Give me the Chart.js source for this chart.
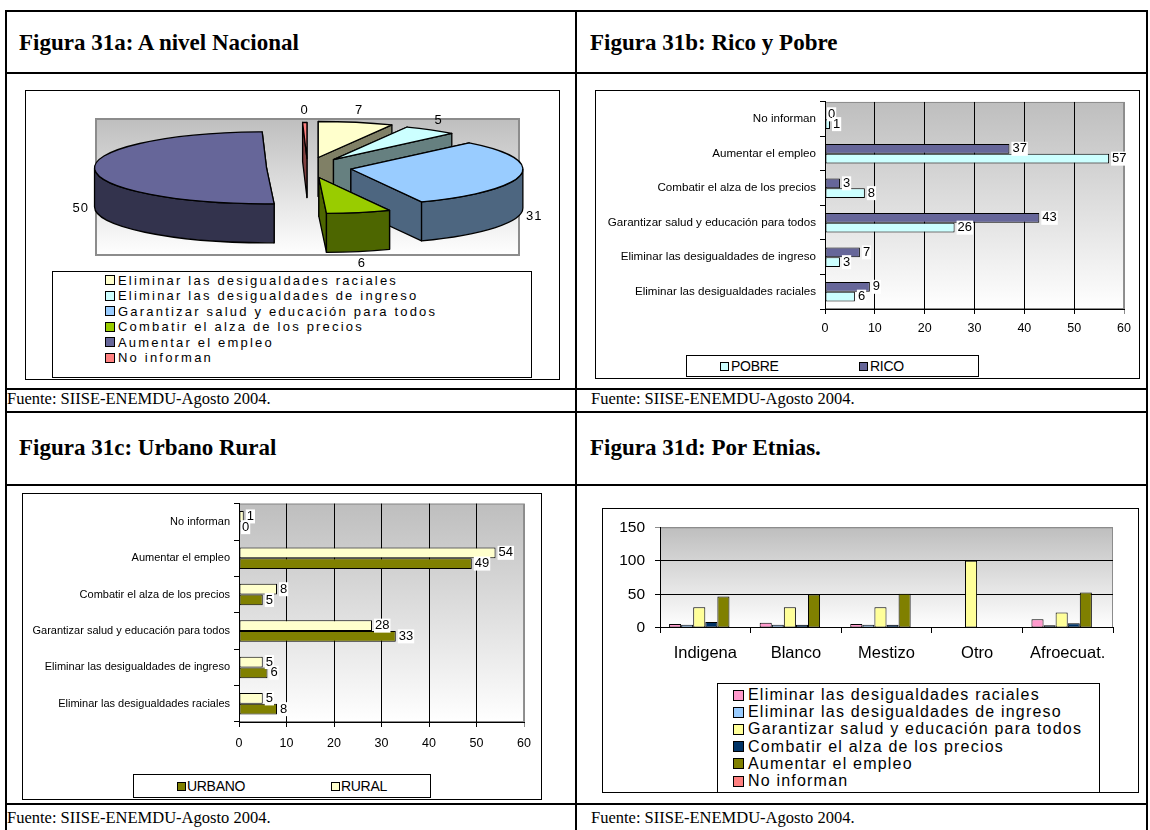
<!DOCTYPE html>
<html><head><meta charset="utf-8">
<script src="https://cdn.jsdelivr.net/npm/chart.js@4.4.1/dist/chart.umd.min.js"></script>
<style>
body{margin:0;background:#fff;width:1150px;height:830px;overflow:hidden;position:relative;font-family:"Liberation Serif","Times New Roman",serif;}
.ln{position:absolute;background:#000;}
.hd{position:absolute;font-weight:bold;font-size:23px;line-height:23px;white-space:nowrap;}
.ft{position:absolute;font-size:16.5px;line-height:16.5px;white-space:nowrap;}
.box{position:absolute;border:1px solid #000;box-sizing:border-box;background:#fff;}
canvas{position:absolute;}
.lg{position:absolute;border:1px solid #000;box-sizing:border-box;background:#fff;font-family:"Liberation Sans",Arial,sans-serif;}
.it{position:absolute;white-space:nowrap;}
.sq{position:absolute;border:1px solid #000;box-sizing:border-box;}
</style></head><body>
<div class="hd" style="left:19px;top:31px">Figura 31a: A nivel Nacional</div>
<div class="hd" style="left:590px;top:31px">Figura 31b: Rico y Pobre</div>
<div class="hd" style="left:19px;top:436px">Figura 31c: Urbano Rural</div>
<div class="hd" style="left:590px;top:436px">Figura 31d: Por Etnias.</div>
<div class="ft" style="left:7px;top:391px">Fuente: SIISE-ENEMDU-Agosto 2004.</div>
<div class="ft" style="left:591px;top:391px">Fuente: SIISE-ENEMDU-Agosto 2004.</div>
<div class="ft" style="left:7px;top:810px">Fuente: SIISE-ENEMDU-Agosto 2004.</div>
<div class="ft" style="left:591px;top:810px">Fuente: SIISE-ENEMDU-Agosto 2004.</div>

<div class="ln" style="left:5px;top:10px;width:1143px;height:2px"></div>
<div class="ln" style="left:5px;top:72px;width:1143px;height:2px"></div>
<div class="ln" style="left:5px;top:388px;width:1143px;height:2px"></div>
<div class="ln" style="left:5px;top:411px;width:1143px;height:2px"></div>
<div class="ln" style="left:5px;top:484px;width:1143px;height:2px"></div>
<div class="ln" style="left:5px;top:803px;width:1143px;height:2px"></div>
<div class="ln" style="left:5px;top:10px;width:2px;height:820px"></div>
<div class="ln" style="left:575px;top:10px;width:2px;height:820px"></div>
<div class="ln" style="left:1146px;top:10px;width:2px;height:820px"></div>

<div class="box" style="left:25px;top:90px;width:535px;height:290px"></div>
<div class="box" style="left:595px;top:90px;width:545px;height:289px"></div>
<div class="box" style="left:22px;top:493px;width:520px;height:307px"></div>
<div class="box" style="left:602px;top:508px;width:537px;height:285px"></div>

<canvas id="cA" width="531" height="289" style="left:25px;top:91px"></canvas>
<canvas id="cB" width="543" height="288" style="left:595px;top:91px"></canvas>
<canvas id="cC" width="518" height="307" style="left:22px;top:493px"></canvas>
<canvas id="cD" width="537" height="284" style="left:602px;top:508px"></canvas>

<div id="lgA" class="lg" style="left:52px;top:271px;width:480px;height:107px"></div>
<div id="lgB" class="lg" style="left:686px;top:355px;width:293px;height:22px"></div>
<div id="lgC" class="lg" style="left:133px;top:774px;width:298px;height:24px"></div>
<div id="lgD" class="lg" style="left:717px;top:683px;width:383px;height:110px"></div>

<script>
// ---------- DATA ----------
const pieLabels = ['Eliminar las desigualdades raciales','Eliminar las desigualdades de ingreso','Garantizar salud y educación para todos','Combatir el alza de los precios','Aumentar el empleo','No informan'];
const pieValues = [7, 5, 31, 6, 50, 0.4];

const catsBC = ['No informan','Aumentar el empleo','Combatir el alza de los precios','Garantizar salud y educación para todos','Eliminar las desigualdades de ingreso','Eliminar las desigualdades raciales'];
const ricoB  = [0, 37, 3, 43, 7, 9];
const pobreB = [1, 57, 8, 26, 3, 6];
const ruralC  = [1, 54, 8, 28, 5, 5];
const urbanoC = [0, 49, 5, 33, 6, 8];
const xTicksBC = [0, 10, 20, 30, 40, 50, 60];

const etnias = ['Indigena','Blanco','Mestizo','Otro','Afroecuat.'];
const dRaciales   = [6, 8, 6, 0, 13];
const dIngreso    = [5, 5, 5, 0, 4];
const dGarantizar = [31, 31, 31, 100, 23];
const dCombatir   = [9, 5, 5, 0, 7];
const dEmpleo     = [47, 50, 51, 0, 53];
const dNoInforman = [1, 0.5, 0, 0, 0];
const yTicksD = [0, 50, 100, 150];

// ---------- STYLE ----------
const pieTop  = ['#FFFFCC','#CCFFFF','#99CCFF','#99CC00','#666699','#FF8080'];
const pieSide = ['#808066','#668080','#4D6680','#4D6600','#33334D','#804040'];
const pieExplode = [49, 46, 44, 49, 41, 43];
const colD = ['#FF99CC','#99CCFF','#FFFF99','#003366','#808000','#FF8080'];
const SANS = '"Liberation Sans", Arial, sans-serif';
function sf(size){ return {family:SANS, size:size}; }

Chart.defaults.color = '#000';

// ---------- PLUGINS ----------
const plotBg = {
  id:'plotBg',
  beforeDraw(chart, args, o){
    const a = chart.chartArea, ctx = chart.ctx;
    const g = ctx.createLinearGradient(0, a.top, 0, a.bottom);
    g.addColorStop(0, '#BEBEBE'); g.addColorStop(1, '#FFFFFF');
    ctx.save();
    ctx.fillStyle = g;
    ctx.fillRect(a.left, a.top, a.right-a.left, a.bottom-a.top);
    ctx.strokeStyle = '#8C8C8C'; ctx.lineWidth = o.border || 1;
    const hw = (o.border||1)/2;
    ctx.strokeRect(a.left+hw, a.top+hw, a.right-a.left-2*hw, a.bottom-a.top-2*hw);
    ctx.restore();
  }
};

const pie3d = {
  id:'pie3d',
  beforeDatasetDraw(chart, args, o){
    const ctx = chart.ctx, meta = args.meta;
    const rx = o.rx, ry = o.ry, h = o.depth, k = ry/rx;
    const ds = chart.data.datasets[0];
    const items = meta.data.map((arc, i) => {
      const p = arc.getProps(['x','y','startAngle','endAngle'], true);
      const am = (p.startAngle + p.endAngle)/2;
      const d = arc.options.offset || 0;
      return {i, a0:p.startAngle, a1:p.endAngle, am,
        ox: p.x + d*Math.cos(am), oy: p.y - h/2 + d*k*Math.sin(am),
        top: arc.options.backgroundColor, side: o.side[i]};
    });
    const order = items.slice().sort((a,b)=>Math.sin(a.am)-Math.sin(b.am));
    ctx.save();
    ctx.lineWidth = 1.3; ctx.strokeStyle = '#000'; ctx.lineJoin = 'round';
    for (const s of order){
      const face = (a)=>{
        const ex = s.ox + rx*Math.cos(a), ey = s.oy + ry*Math.sin(a);
        ctx.beginPath(); ctx.moveTo(s.ox, s.oy); ctx.lineTo(ex, ey); ctx.lineTo(ex, ey+h); ctx.lineTo(s.ox, s.oy+h); ctx.closePath();
        ctx.fillStyle = s.side; ctx.fill(); ctx.stroke();
      };
      const v0 = Math.cos(s.a0) < 0, v1 = Math.cos(s.a1) > 0;
      if (!v0) face(s.a0);
      if (!v1) face(s.a1);
      if (v0) face(s.a0);
      if (v1) face(s.a1);
      const w0 = Math.max(s.a0, 0), w1 = Math.min(s.a1, Math.PI);
      if (w1 > w0){
        ctx.beginPath();
        ctx.ellipse(s.ox, s.oy, rx, ry, 0, w0, w1, false);
        ctx.ellipse(s.ox, s.oy+h, rx, ry, 0, w1, w0, true);
        ctx.closePath(); ctx.fillStyle = s.side; ctx.fill(); ctx.stroke();
      }
      ctx.beginPath(); ctx.moveTo(s.ox, s.oy);
      ctx.ellipse(s.ox, s.oy, rx, ry, 0, s.a0, s.a1, false);
      ctx.closePath(); ctx.fillStyle = s.top; ctx.fill(); ctx.stroke();
    }
    ctx.fillStyle = '#000';
    ctx.font = '13px ' + SANS;
    try { ctx.letterSpacing = '1px'; } catch(e) {}
    ctx.textAlign = 'center'; ctx.textBaseline = 'middle';
    for (const s of items){
      const c = Math.cos(s.am), sn = Math.sin(s.am);
      const x = s.ox + (rx + o.lpx)*c;
      const y = s.oy + (ry + o.lpy)*sn + (sn > 0 ? h : 0);
      ctx.fillText(String(Math.round(ds.data[s.i])), x, y);
    }
    ctx.restore();
    return false;
  }
};

const barLabels = {
  id:'barLabels',
  afterDatasetsDraw(chart, args, o){
    const ctx = chart.ctx;
    ctx.save();
    ctx.font = o.font; ctx.textBaseline = 'middle'; ctx.textAlign = 'left';
    chart.data.datasets.forEach((ds, di) => {
      chart.getDatasetMeta(di).data.forEach((bar, j) => {
        const t = String(ds.data[j]);
        const w = ctx.measureText(t).width;
        const x = bar.x + o.dx, y = bar.y + o.dy;
        ctx.fillStyle = '#fff'; ctx.fillRect(x-1, y-o.h/2, w+2, o.h);
        ctx.fillStyle = '#000'; ctx.fillText(t, x, y);
      });
    });
    ctx.restore();
  }
};

// ---------- CHART A: 3D exploded pie ----------
new Chart(document.getElementById('cA'), {
  type:'pie',
  data:{labels:pieLabels, datasets:[{data:pieValues, backgroundColor:pieTop, offset:pieExplode, borderWidth:0}]},
  options:{responsive:false, animation:false, devicePixelRatio:1,
    layout:{padding:{left:70, top:27, right:36, bottom:124}},
    plugins:{legend:{display:false}, tooltip:{enabled:false},
      plotBg:{border:2},
      pie3d:{rx:172, ry:36, depth:39, side:pieSide, lpx:14, lpy:12}}
  },
  plugins:[plotBg, pie3d]
});

// ---------- horizontal bar helper ----------
function hbar(id, dsArr, o){
  return new Chart(document.getElementById(id), {
    type:'bar',
    data:{labels:catsBC, datasets:dsArr},
    options:{indexAxis:'y', responsive:false, animation:false, devicePixelRatio:1,
      datasets:{bar:{categoryPercentage:o.catPct, barPercentage:1, borderColor:'#000', borderWidth:1, borderSkipped:false}},
      layout:{padding:o.pad},
      scales:{
        x:{type:'linear', min:xTicksBC[0], max:xTicksBC[xTicksBC.length-1],
          afterBuildTicks(s){ s.ticks = xTicksBC.map(v=>({value:v})); },
          ticks:{font:sf(o.tfs), color:'#000', padding:o.xpad},
          grid:{color:c=>(c.tick && c.tick.value===60)?'#8C8C8C':'#000', tickLength:5, drawTicks:true},
          border:{color:'#000'},
          afterFit(s){ s.height = o.xh; }},
        y:{ticks:{font:sf(o.cfs), color:'#000', padding:4, autoSkip:false},
          grid:{drawOnChartArea:false, offset:true, tickLength:5, color:'#000'},
          border:{color:'#000'},
          afterFit(s){ s.width = o.yw; }}
      },
      plugins:{legend:{display:false}, tooltip:{enabled:false}, plotBg:{border:1},
        barLabels:{font:'13px '+SANS, dx:3, dy:0, h:14}}
    },
    plugins:[plotBg, barLabels]
  });
}

hbar('cB', [
  {label:'RICO', data:ricoB, backgroundColor:'#666699'},
  {label:'POBRE', data:pobreB, backgroundColor:'#CCFFFF'}
], {catPct:0.57, pad:{left:0, top:8, right:9, bottom:40}, cfs:11.6, tfs:12.5, xpad:7, xh:30, yw:230});

hbar('cC', [
  {label:'RURAL', data:ruralC, backgroundColor:'#FFFFCC'},
  {label:'URBANO', data:urbanoC, backgroundColor:'#808000'}
], {catPct:0.59, pad:{left:0, top:5, right:8, bottom:48}, cfs:11.0, tfs:12.5, xpad:9, xh:30, yw:217});

// ---------- CHART D ----------
const dNames = pieLabels;
const dData = [dRaciales, dIngreso, dGarantizar, dCombatir, dEmpleo, dNoInforman];
new Chart(document.getElementById('cD'), {
  type:'bar',
  data:{labels:etnias, datasets:dData.map((d,i)=>({label:dNames[i], data:d, backgroundColor:colD[i]}))},
  options:{responsive:false, animation:false, devicePixelRatio:1,
    datasets:{bar:{categoryPercentage:0.8, barPercentage:1, borderColor:'#000', borderWidth:1, borderSkipped:false}},
    layout:{padding:{left:0, top:14, right:26, bottom:124}},
    scales:{
      x:{ticks:{font:sf(16.5), color:'#000', padding:11},
        grid:{drawOnChartArea:false, offset:true, tickLength:5, color:'#000'},
        border:{color:'#000'}, afterFit(s){ s.height = 40; }},
      y:{min:yTicksD[0], max:yTicksD[yTicksD.length-1],
        afterBuildTicks(s){ s.ticks = yTicksD.map(v=>({value:v})); },
        ticks:{font:sf(15.5), color:'#000', padding:10},
        grid:{color:c=>(c.tick && c.tick.value===150)?'#8C8C8C':'#000', tickLength:5},
        border:{color:'#000'}, afterFit(s){ s.width = 58; }}
    },
    plugins:{legend:{display:false}, tooltip:{enabled:false}, plotBg:{border:1}}
  },
  plugins:[plotBg]
});

// ---------- HTML legends ----------
function vLegend(id, names, colors, o){
  const el = document.getElementById(id);
  names.forEach((n,i)=>{
    const cy = o.y0 + i*o.dy;
    const sq = document.createElement('div'); sq.className='sq';
    sq.style.cssText += `left:${o.sx}px;top:${cy-o.sz/2}px;width:${o.sz}px;height:${o.sz}px;background:${colors[i]}`;
    el.appendChild(sq);
    const t = document.createElement('div'); t.className='it'; t.textContent = n;
    t.style.cssText += `left:${o.tx}px;top:${cy-o.fs/2-1}px;font-size:${o.fs}px;line-height:${o.fs+2}px;letter-spacing:${o.ls}px`;
    el.appendChild(t);
  });
}
function hLegend(id, names, colors, o){
  const el = document.getElementById(id);
  names.forEach((n,i)=>{
    const sq = document.createElement('div'); sq.className='sq';
    sq.style.cssText += `left:${o.sx[i]}px;top:${o.cy-o.sz/2}px;width:${o.sz}px;height:${o.sz}px;background:${colors[i]}`;
    el.appendChild(sq);
    const t = document.createElement('div'); t.className='it'; t.textContent = n;
    t.style.cssText += `left:${o.tx[i]}px;top:${o.cy-o.lh/2}px;font-size:${o.fs}px;line-height:${o.lh}px;letter-spacing:-0.3px`;
    el.appendChild(t);
  });
}
vLegend('lgA', pieLabels, pieTop, {y0:8, dy:15.5, sx:52, sz:10, tx:65, fs:13, ls:2.2});
vLegend('lgD', dNames, colD, {y0:11, dy:17.2, sx:15, sz:11, tx:30, fs:16, ls:1.2});
hLegend('lgB', ['POBRE','RICO'], ['#CCFFFF','#666699'], {cy:10, sz:9, sx:[33,172], tx:[44,183], fs:14, lh:18});
hLegend('lgC', ['URBANO','RURAL'], ['#808000','#FFFFCC'], {cy:11, sz:9, sx:[43,197], tx:[53,207], fs:14, lh:18});
</script>
</body></html>
